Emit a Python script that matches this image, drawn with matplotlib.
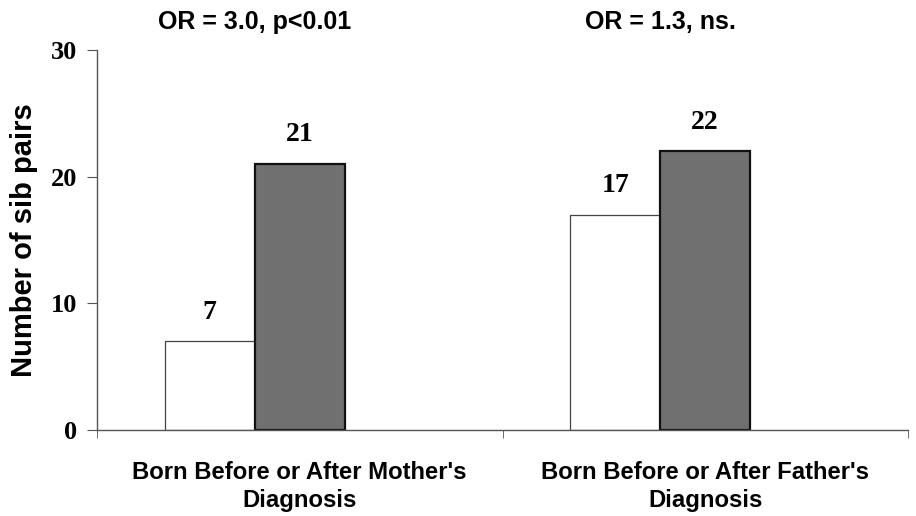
import matplotlib
matplotlib.use("Agg")
import matplotlib.pyplot as plt
import numpy as np

categories = ["Born Before or After Mother's\nDiagnosis", "Born Before or After Father's\nDiagnosis"]
before_vals = [7, 17]
after_vals = [21, 22]
group_titles = ["OR = 3.0, p<0.01", "OR = 1.3, ns."]
yticks = [0, 10, 20, 30]

fig = plt.figure(figsize=(9.16, 5.16), dpi=100)
ax = fig.add_axes([97/916, 86/516, 811/916, 380/516])

x = np.arange(len(categories))
w = 0.222
axis_col = "#555555"
b1 = ax.bar(x - w/2 - 0.111, before_vals, width=w, color="white", edgecolor="#444444", linewidth=0.9)
b2 = ax.bar(x + w/2 - 0.111, after_vals, width=w, color="#707070", edgecolor="#111111", linewidth=1.6)

for bars, vals in ((b1, before_vals), (b2, after_vals)):
    for r, v in zip(bars, vals):
        ax.annotate(str(v), (r.get_x() + r.get_width()/2, v), xytext=(0, 12), textcoords="offset points",
                    ha="center", va="bottom", fontsize=20, fontweight="bold", family="Liberation Serif")

for xi, t in zip(x, group_titles):
    ax.text(xi - 0.111, 1.0 + 21/380, t, transform=ax.get_xaxis_transform(), ha="center", va="baseline",
            fontsize=18, fontweight="bold", family="Liberation Sans")

ax.set_xlim(-0.5, 1.5)
ax.set_ylim(0, 30)
ax.set_yticks(yticks)
ax.set_yticklabels([str(v) for v in yticks], fontsize=19, fontweight="bold", family="Liberation Serif")
ax.set_xticks(x)
ax.set_xticklabels(categories, fontsize=17.2, fontweight="bold", family="Liberation Sans", linespacing=1.28)
ax.tick_params(axis="x", which="major", length=0, pad=22)
ax.set_xticks([-0.5, 0.5, 1.5], minor=True)
ax.tick_params(axis="x", which="minor", length=6, color=axis_col, direction="out")
ax.tick_params(axis="y", length=7, color=axis_col, direction="out", pad=7)

for s in ("top", "right"):
    ax.spines[s].set_visible(False)
for s in ("left", "bottom"):
    ax.spines[s].set_color(axis_col)
    ax.spines[s].set_linewidth(1.0)

ax.set_ylabel("Number of sib pairs", fontsize=21, fontweight="bold", family="Liberation Sans")
ax.yaxis.set_label_coords(-(97 - 38) / 811, 0.5)

fig.savefig("out.png", dpi=100)
